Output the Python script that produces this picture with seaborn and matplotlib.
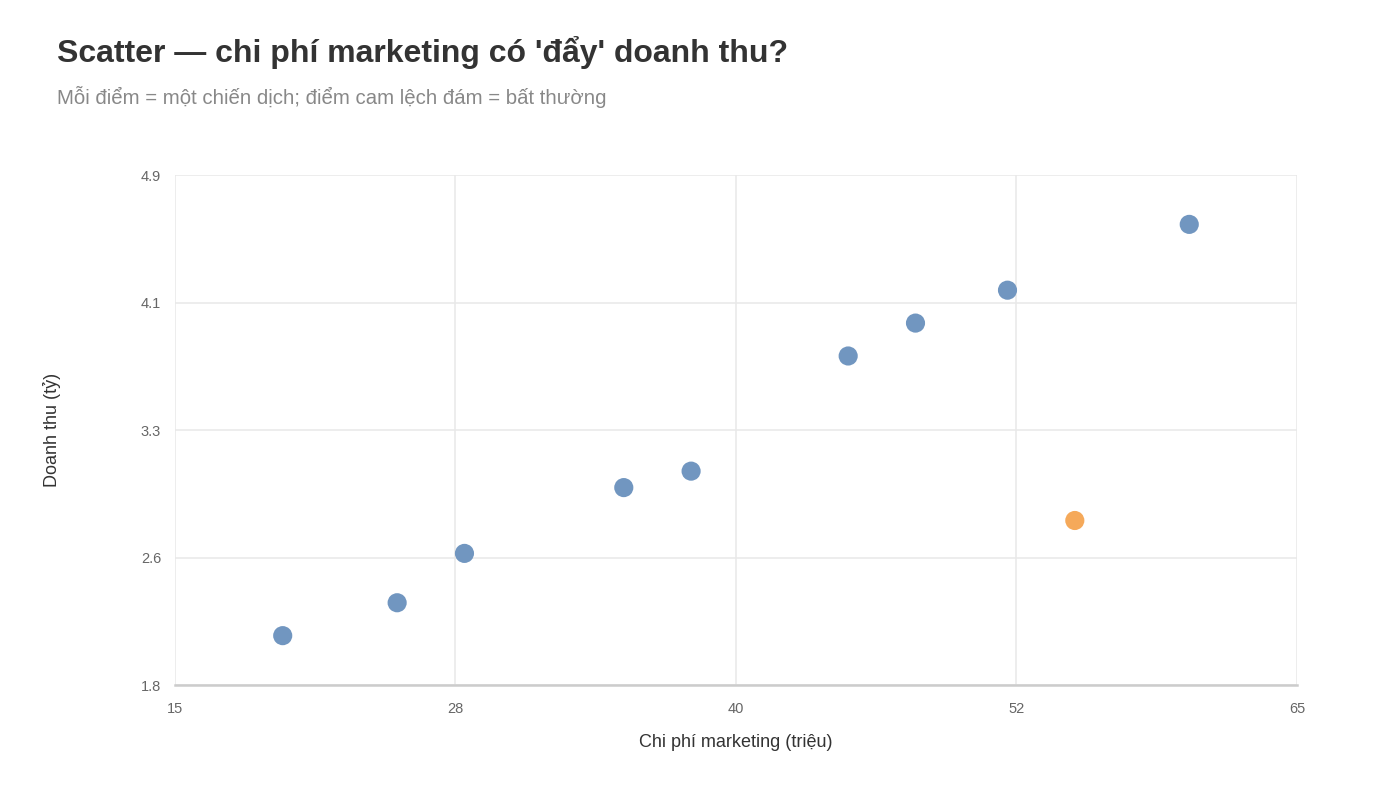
import matplotlib
matplotlib.use("Agg")
import matplotlib.pyplot as plt
import seaborn as sns
import pandas as pd
from matplotlib.ticker import FixedLocator, FixedFormatter

spend = [19.8, 24.9, 27.9, 35.0, 38.0, 45.0, 48.0, 52.1, 60.2, 55.1]
revenue = [2.1, 2.3, 2.6, 3.0, 3.1, 3.8, 4.0, 4.2, 4.6, 2.8]
group = ["Bình thường"] * 9 + ["Bất thường"]
x_ticks = [15, 27.5, 40, 52.5, 65]
x_tick_labels = ["15", "28", "40", "52", "65"]
y_ticks = [1.8, 2.575, 3.35, 4.125, 4.9]
y_tick_labels = ["1.8", "2.6", "3.3", "4.1", "4.9"]

df = pd.DataFrame({"spend": spend, "revenue": revenue, "group": group})

sns.set_style("white")
plt.rcParams['font.family'] = ['Liberation Sans', 'DejaVu Sans']

fig = plt.figure(figsize=(14, 7.87), dpi=100)
ax = fig.add_axes([0.125, 0.1296, 0.8014, 0.648])

sns.scatterplot(data=df, x="spend", y="revenue", hue="group",
                palette={"Bình thường": "#7196c0", "Bất thường": "#f5a95a"},
                s=190, edgecolor="none", linewidth=0, legend=False, ax=ax, zorder=3)

ax.set_xlim(15, 65)
ax.set_ylim(1.8, 4.9)
ax.xaxis.set_major_locator(FixedLocator(x_ticks))
ax.xaxis.set_major_formatter(FixedFormatter(x_tick_labels))
ax.yaxis.set_major_locator(FixedLocator(y_ticks))
ax.yaxis.set_major_formatter(FixedFormatter(y_tick_labels))
ax.grid(True, color="#e8e8e8", linewidth=1.1, zorder=0)
ax.set_axisbelow(True)
for side in ["left", "right", "top"]:
    ax.spines[side].set_visible(False)
ax.spines["bottom"].set_color("#cccccc")
ax.spines["bottom"].set_linewidth(1.8)
ax.tick_params(axis="both", length=0, labelsize=10.5, labelcolor="#666666")
ax.tick_params(axis="x", pad=12)
ax.tick_params(axis="y", pad=10)

ax.set_xlabel("Chi phí marketing (triệu)", fontsize=13, color="#333333", va="center")
ax.set_ylabel("Doanh thu (tỷ)", fontsize=13, color="#333333", va="center")
ax.xaxis.set_label_coords(0.5, -0.1137)
ax.yaxis.set_label_coords(-0.1096, 0.5)

fig.text(0.041, 0.933, "Scatter — chi phí marketing có 'đẩy' doanh thu?",
         fontsize=23, fontweight="bold", color="#333333", va="center", ha="left")
fig.text(0.041, 0.877, "Mỗi điểm = một chiến dịch; điểm cam lệch đám = bất thường",
         fontsize=14.7, color="#888888", va="center", ha="left")

fig.savefig("out.png", dpi=100)
